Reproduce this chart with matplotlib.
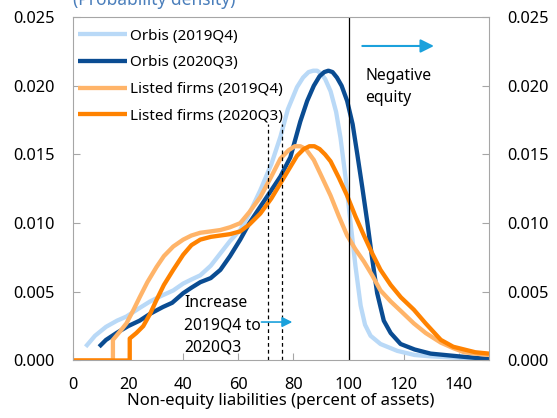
import matplotlib
matplotlib.use('Agg')
import matplotlib.pyplot as plt

plt.rcParams['font.family'] = ['Noto Sans', 'DejaVu Sans']

# Orbis (2019Q4)
orbis19_x = [4.6, 8, 12, 16, 19.4, 24, 28, 32, 36.4, 40, 43, 46.2, 50, 53.5, 57,
             60.7, 64, 68, 72, 75.3, 78, 81.3, 83.5, 85.5, 87.2, 88.6, 90,
             91.5, 93.5, 95.5, 97.1, 99, 100.7, 102.5, 104.4, 106, 108, 111.6,
             117.7, 124, 130, 140, 151]
orbis19_y = [0.0010, 0.0018, 0.00245, 0.0029, 0.0032, 0.0038, 0.0043, 0.0047,
             0.0051, 0.0056, 0.0059, 0.0062, 0.0069, 0.0078, 0.0087, 0.0095,
             0.0107, 0.0124, 0.0143, 0.0163, 0.0183, 0.0199, 0.0206, 0.0210,
             0.0211, 0.0211, 0.0209, 0.0205, 0.0196, 0.0181, 0.0162, 0.0132,
             0.0101, 0.0069, 0.0040, 0.0026, 0.0018, 0.0012, 0.0007, 0.0004,
             0.0003, 0.0002, 0.0001]

# Orbis (2020Q3)
orbis20_x = [9.5, 12, 15.8, 20, 24.2, 28, 32.7, 36, 40, 43, 46.2, 50, 53.5, 57,
             60.7, 64, 68, 72, 75.3, 78.9, 82.5, 85, 87.4, 89.5, 91.2, 92.7,
             94.2, 95.8, 97.5, 99.5, 101.5, 103.2, 105, 106.8, 108.6, 110.4,
             112.8, 115.3, 118.9, 124, 129.8, 140, 151]
orbis20_y = [0.0010, 0.0015, 0.0020, 0.0025, 0.0029, 0.0034, 0.0039, 0.0042,
             0.0049, 0.0053, 0.0057, 0.0060, 0.0066, 0.0076, 0.0088, 0.0100,
             0.0112, 0.0124, 0.0134, 0.0148, 0.0174, 0.0189, 0.0200, 0.0207,
             0.0210, 0.0211, 0.0210, 0.0206, 0.0200, 0.0189, 0.0172, 0.0150,
             0.0126, 0.0101, 0.0074, 0.0049, 0.0029, 0.0020, 0.0012, 0.0008,
             0.0005, 0.0003, 0.0001]

# Listed firms (2019Q4)
listed19_x = [0, 14.5, 14.5, 17, 19.4, 22, 24.2, 27, 30.3, 33, 36.4, 40, 43,
              46.2, 50, 53.5, 57, 60.7, 64, 68, 72, 75.3, 78.2, 80.5, 82.5, 84.5,
              87.4, 90, 93.5, 96.5, 99.5, 102.5, 105.6, 108.6, 111.6, 115.3, 119,
              123.7, 128, 133.5, 138, 142, 146, 151]
listed19_y = [0, 0, 0.0015, 0.0021, 0.0027, 0.0037, 0.0046, 0.0057, 0.0068,
              0.0076, 0.0083, 0.0088, 0.0091, 0.0093, 0.0094, 0.0095, 0.0097,
              0.0100, 0.0108, 0.0119, 0.0134, 0.0147, 0.0153, 0.0156, 0.0156,
              0.0154, 0.0146, 0.0135, 0.0120, 0.0105, 0.0091, 0.0081, 0.0072,
              0.0062, 0.0051, 0.0043, 0.0036, 0.0027, 0.0020, 0.0013, 0.0009,
              0.0006, 0.0005, 0.0004]

# Listed firms (2020Q3)
listed20_x = [0, 20.6, 20.6, 23, 25.5, 28, 30.3, 33, 36.4, 40, 43, 46.2, 50,
              53.5, 57, 60.7, 64, 68, 72, 75.3, 78.9, 81.3, 83.8, 85.8, 87.6,
              89.5, 91.5, 93.5, 96.5, 99.5, 102.5, 105.6, 108.6, 111.6, 115.3,
              119, 123.7, 128, 133.5, 138, 142, 146, 151]
listed20_y = [0, 0, 0.0016, 0.0020, 0.0025, 0.0034, 0.0044, 0.0055, 0.0066,
              0.0077, 0.0084, 0.0088, 0.0090, 0.0091, 0.0092, 0.0094, 0.0099,
              0.0107, 0.0118, 0.0129, 0.0141, 0.0149, 0.0154, 0.0156, 0.0156,
              0.0154, 0.0150, 0.0145, 0.0133, 0.0120, 0.0105, 0.0091, 0.0078,
              0.0066, 0.0055, 0.0046, 0.0037, 0.0027, 0.0015, 0.0010, 0.0008,
              0.0006, 0.0005]

median_lines = [70.7, 75.9]
x_ticks = [0, 20, 40, 60, 80, 100, 120, 140]
y_ticks = [0.000, 0.005, 0.010, 0.015, 0.020, 0.025]

grey = '#A6A6A6'
arrow_blue = '#1BA1DC'

fig = plt.figure(figsize=(5.57, 4.18), dpi=100)
ax = fig.add_axes([0.131, 0.1376, 0.747, 0.8214])

line_kw = dict(lw=3.1, solid_joinstyle='round', solid_capstyle='butt')
ax.plot(orbis19_x, orbis19_y, color='#B9D9F7', label='Orbis (2019Q4)', **line_kw)
ax.plot(orbis20_x, orbis20_y, color='#0A4C92', label='Orbis (2020Q3)', **line_kw)
ax.plot(listed19_x, listed19_y, color='#FFB469', label='Listed firms (2019Q4)', **line_kw)
ax.plot(listed20_x, listed20_y, color='#FF8200', label='Listed firms (2020Q3)', **line_kw)

# threshold and median markers
ax.plot([100, 100], [0, 0.025], color='black', lw=0.9)
for m in median_lines:
    ax.plot([m, m], [0, 0.0172], color='black', lw=0.9, ls=(0, (3, 2.5)))

ax.set_xlim(0, 151)
ax.set_ylim(0, 0.025)
ax.set_xticks(x_ticks)
ax.set_yticks(y_ticks)
ax.set_yticklabels(['%.3f' % v for v in y_ticks])
ax.tick_params(axis='both', direction='in', length=5, color=grey, labelsize=11.8)
ax.tick_params(axis='y', pad=13, right=True, labelright=True)
ax.tick_params(axis='x', pad=12)
for s in ax.spines.values():
    s.set_color(grey)

ax.set_xlabel('Non-equity liabilities (percent of assets)', fontsize=12, labelpad=0)

fig.text(0.131, 1 - 9 / 418, '(Probability density)', color='#4A7EBB',
         fontsize=12.5, va='bottom', ha='left')

ax.legend(loc='upper left', bbox_to_anchor=(0.012, 0.966), frameon=False,
          fontsize=11, handlelength=3.2, handletextpad=0.2, labelspacing=0.76,
          borderpad=0, borderaxespad=0)

# negative equity note
ax.annotate('', xy=(131, 0.0229), xytext=(105, 0.0229),
            arrowprops=dict(arrowstyle='-|>', color=arrow_blue, lw=1.5,
                            mutation_scale=20, shrinkA=0, shrinkB=0))
ax.text(106, 0.0199, 'Negative\nequity', fontsize=11.3, va='center', ha='left',
        linespacing=1.5)

# increase note
ax.annotate('', xy=(79.6, 0.0028), xytext=(68.4, 0.0028),
            arrowprops=dict(arrowstyle='-|>', color=arrow_blue, lw=1.2,
                            mutation_scale=15, shrinkA=0, shrinkB=0))
ax.text(40.4, 0.00258, 'Increase\n2019Q4 to\n2020Q3', fontsize=11.3,
        va='center', ha='left', linespacing=1.5)

fig.savefig('out.png', dpi=100)
